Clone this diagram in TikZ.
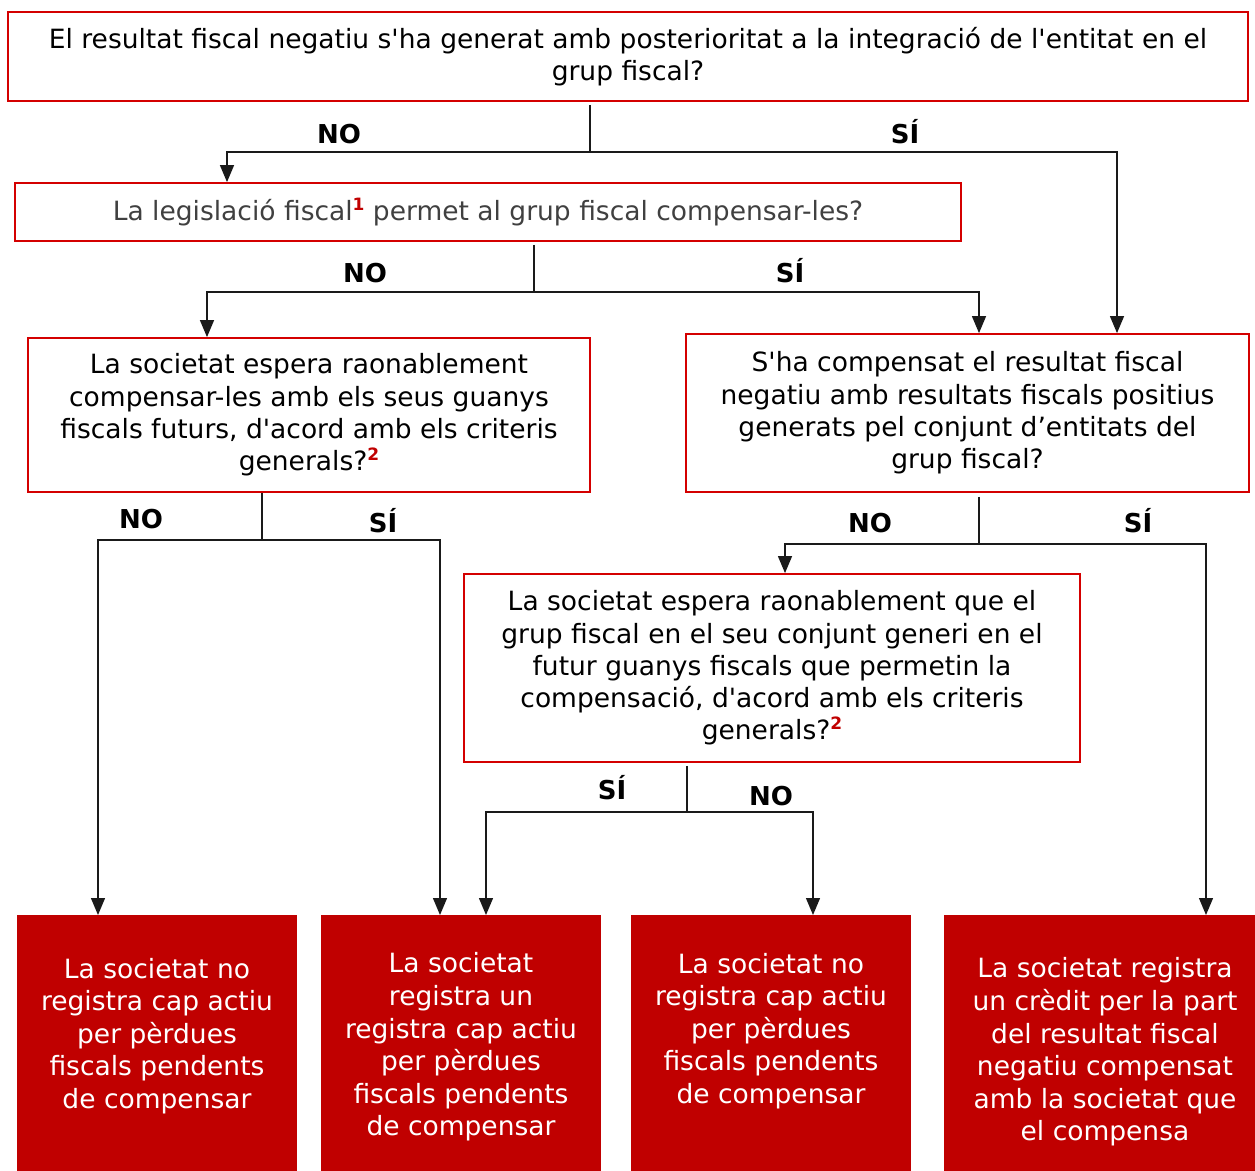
\documentclass[tikz,border=0pt]{standalone}
\usepackage{fontspec}
\setmainfont{DejaVu Sans}
\usetikzlibrary{arrows.meta}
\definecolor{bred}{HTML}{C00000}
\definecolor{lred}{HTML}{D40000}
\definecolor{tgray}{HTML}{404040}
\definecolor{lnc}{HTML}{1A1A1A}
\newcommand{\fn}[1]{\raisebox{0.40em}{\fontsize{17}{17}\selectfont\bfseries\color{bred}#1}}
\newcommand{\ap}{\textquotesingle}
\begin{document}
\begin{tikzpicture}[x=1pt,y=-1pt,
  qbox/.style={draw=lred, line width=1.8pt, inner sep=0pt, align=center,
    font=\fontsize{26.5}{32.3}\selectfont},
  endbox/.style={fill=bred, draw=none, anchor=north, minimum width=280pt, minimum height=280pt, inner sep=0pt},
  endtxt/.style={text=white, align=center, font=\fontsize{26.5}{32.6}\selectfont, inner sep=0pt},
  lab/.style={font=\fontsize{26}{28}\selectfont\bfseries, anchor=base, inner sep=0pt},
  conn/.style={draw=lnc, line width=1.3pt},
  arr/.style={conn, -{Triangle[length=17pt,width=14pt]}}
]
\useasboundingbox (0,0) rectangle (1255,1170);

% question boxes
\node[qbox, minimum width=1240pt, minimum height=89pt] (q1) at (628,56.5)
  {El resultat fiscal negatiu s\ap ha generat amb posterioritat a la integració de l\ap entitat en el\\grup fiscal?};
\node[qbox, minimum width=946pt, minimum height=58pt, text=tgray] (q2) at (488,212)
  {La legislació fiscal\fn{1} permet al grup fiscal compensar-les?};
\node[qbox, minimum width=562pt, minimum height=154pt] (q3) at (309,415)
  {La societat espera raonablement\\compensar-les amb els seus guanys\\fiscals futurs, d\ap acord amb els criteris\\generals?\fn{2}};
\node[qbox, minimum width=563pt, minimum height=158pt] (q4) at (967.5,413)
  {S\ap ha compensat el resultat fiscal\\negatiu amb resultats fiscals positius\\generats pel conjunt d’entitats del\\grup fiscal?};
\node[qbox, minimum width=616pt, minimum height=188pt] (q5) at (772,668)
  {La societat espera raonablement que el\\grup fiscal en el seu conjunt generi en el\\futur guanys fiscals que permetin la\\compensació, d\ap acord amb els criteris\\generals?\fn{2}};

% result boxes
\node[endbox] (r1) at (157,915) {};
\node[endbox] (r2) at (461,915) {};
\node[endbox] (r3) at (771,915) {};
\node[endbox, minimum width=316pt] (r4) at (1102,915) {};
\node[endtxt] (t1) at (157,1036) {La societat no\\registra cap actiu\\per pèrdues\\fiscals pendents\\de compensar};
\node[endtxt] (t2) at (461,1047) {La societat\\registra un\\registra cap actiu\\per pèrdues\\fiscals pendents\\de compensar};
\node[endtxt] (t3) at (771,1031) {La societat no\\registra cap actiu\\per pèrdues\\fiscals pendents\\de compensar};
\node[endtxt] (t4) at (1105,1052) {La societat registra\\un crèdit per la part\\del resultat fiscal\\negatiu compensat\\amb la societat que\\el compensa};

% junction coordinates
\coordinate (j1) at (590,152);
\coordinate (a1) at (227,152);
\coordinate (b1) at (1117,152);
\coordinate (j2) at (534,292);
\coordinate (a2) at (207,292);
\coordinate (b2) at (979,292);
\coordinate (j3) at (262,540);
\coordinate (a3) at (98,540);
\coordinate (b3) at (440,540);
\coordinate (j4) at (979,544);
\coordinate (a4) at (785,544);
\coordinate (b4) at (1206,544);
\coordinate (j5) at (687,812);
\coordinate (a5) at (486,812);
\coordinate (b5) at (813,812);

% connectors
\draw[conn] ([yshift=-3pt]j1 |- q1.south) -- (j1);
\draw[arr] (j1) -- (a1) -- (a1 |- q2.north);
\draw[arr] (j1) -- (b1) -- (b1 |- q4.north);

\draw[conn] ([yshift=-3pt]j2 |- q2.south) -- (j2);
\draw[arr] (j2) -- (a2) -- (a2 |- q3.north);
\draw[arr] (j2) -- (b2) -- (b2 |- q4.north);

\draw[conn] (j3 |- q3.south) -- (j3);
\draw[arr] (j3) -- (a3) -- (a3 |- r1.north);
\draw[arr] (j3) -- (b3) -- (b3 |- r2.north);

\draw[conn] ([yshift=-4pt]j4 |- q4.south) -- (j4);
\draw[arr] (j4) -- (a4) -- (a4 |- q5.north);
\draw[arr] (j4) -- (b4) -- (b4 |- r4.north);

\draw[conn] ([yshift=-3pt]j5 |- q5.south) -- (j5);
\draw[arr] (j5) -- (a5) -- (a5 |- r2.north);
\draw[arr] (j5) -- (b5) -- (b5 |- r3.north);

% labels
\node[lab] (n1) at (339,143) {NO};
\node[lab] (s1) at (905,143) {SÍ};
\node[lab] (n2) at (365,282) {NO};
\node[lab] (s2) at (790,282) {SÍ};
\node[lab] (n3) at (141,528) {NO};
\node[lab] (s3) at (383,532) {SÍ};
\node[lab] (n4) at (870,532) {NO};
\node[lab] (s4) at (1138,532) {SÍ};
\node[lab] (s5) at (612,799) {SÍ};
\node[lab] (n5) at (771,805) {NO};
\end{tikzpicture}
\end{document}
